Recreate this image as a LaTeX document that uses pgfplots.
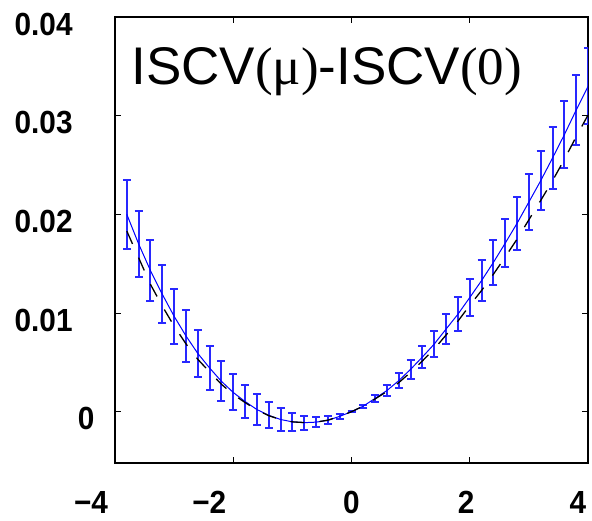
\documentclass[border=0pt]{standalone}
\usepackage{fontspec}
\setmainfont{Liberation Sans}
\newfontfamily\serif{Liberation Serif}
\newfontfamily\tickfont{Liberation Sans Bold}[FakeStretch=0.93]
\usepackage{pgfplots}
\usepackage{pgfplotstable}
\pgfplotsset{compat=1.18}
\definecolor{lineblue}{RGB}{0,0,255}
\definecolor{barblue}{RGB}{40,40,255}

% x, blue curve, half error, black dashed reference
\pgfplotstableread{
x     y         e        b
-3.8  0.0200    0.00350  0.0183
-3.6  0.0170    0.00333  0.0156
-3.4  0.0143    0.00313  0.0129
-3.2  0.0119    0.00296  0.0107
-3.0  0.00967   0.00280  0.00867
-2.8  0.00768   0.00260  0.00688
-2.6  0.00591   0.00240  0.00531
-2.4  0.00443   0.00224  0.00403
-2.2  0.00308   0.00204  0.00278
-2.0  0.00195   0.00182  0.00175
-1.8  0.00103   0.00167  0.00093
-1.6  0.00022   0.00153  0.00017
-1.4  -0.00037  0.00131  -0.00040
-1.2  -0.00079  0.00113  -0.00080
-1.0  -0.00103  0.00089  -0.00103
-0.8  -0.00111  0.00071  -0.00110
-0.6  -0.00106  0.00052  -0.00105
-0.4  -0.00087  0.00040  -0.00086
-0.2  -0.00047  0.00022  -0.00047
0.0   0.0       0.00008  0.0
0.2   0.00057   0.00015  0.00057
0.4   0.00135   0.00034  0.00130
0.6   0.00215   0.00056  0.00205
0.8   0.00315   0.00079  0.00295
1.0   0.00430   0.00094  0.00400
1.2   0.00555   0.00111  0.00515
1.4   0.00686   0.00130  0.00636
1.6   0.00838   0.00150  0.00778
1.8   0.00988   0.00172  0.00918
2.0   0.01157   0.00189  0.01077
2.2   0.01329   0.00209  0.01229
2.4   0.01513   0.00228  0.01393
2.6   0.01708   0.00245  0.01568
2.8   0.01909   0.00266  0.01749
3.0   0.02125   0.00287  0.01945
3.2   0.02341   0.00297  0.02141
3.4   0.02571   0.00317  0.02341
3.6   0.02807   0.00337  0.02557
3.8   0.03057   0.00357  0.02787
4.0   0.03296   0.00385  0.03006
}\iscv

\begin{document}
\begin{tikzpicture}
\begin{axis}[
    name=ax,
    scale only axis,
    width=236.5pt, height=223pt,
    xmin=-4, xmax=4, ymin=-0.0052, ymax=0.04,
    xtick={-4,-2,0,2,4},
    xticklabels={{−4\kern24pt},{−2\kern24pt},0,{2\kern3.6pt},{4\kern10pt}},
    ytick={0,0.01,0.02,0.03,0.04},
    yticklabels={{0\kern-14.5pt},0.01,0.02,0.03,0.04},
    scaled y ticks=false,
    tick align=inside, tick pos=both,
    major tick length=2.8pt,
    every tick/.style={black, line width=0.5pt},
    axis line style={black, line width=1pt},
    xticklabel style={font=\tickfont\fontsize{16}{16}\selectfont,
                      anchor=north, inner sep=0pt, yshift=-14pt},
    yticklabel style={font=\tickfont\fontsize{16}{16}\selectfont,
                      anchor=east, inner sep=0pt, xshift=-21pt, yshift=-3.5pt},
    clip=true]
  \addplot[draw=none, mark=none,
           error bars/.cd, y dir=both, y explicit,
           error bar style={draw=barblue, line width=1pt},
           error mark options={rotate=90, draw=barblue, line width=1pt, mark size=2pt}]
      table[x=x, y=y, y error=e] {\iscv};
  \addplot[lineblue, line width=0.5pt, mark=none] table[x=x, y=y] {\iscv};
  \addplot[black, line width=0.65pt, mark=none, dash pattern=on 7pt off 7.5pt]
      table[x=x, y=b] {\iscv};
  \node[anchor=base west, inner sep=0pt, font=\fontsize{26.5}{26.5}\selectfont]
      at (axis cs:-3.73,0.0332) {ISCV{\serif(μ)}-ISCV{\serif(0)}};
\end{axis}
\pgfresetboundingbox
\path ([shift={(-57.5pt,-28.5pt)}]ax.south west) rectangle ([shift={(2pt,8.5pt)}]ax.north east);
\end{tikzpicture}
\end{document}
